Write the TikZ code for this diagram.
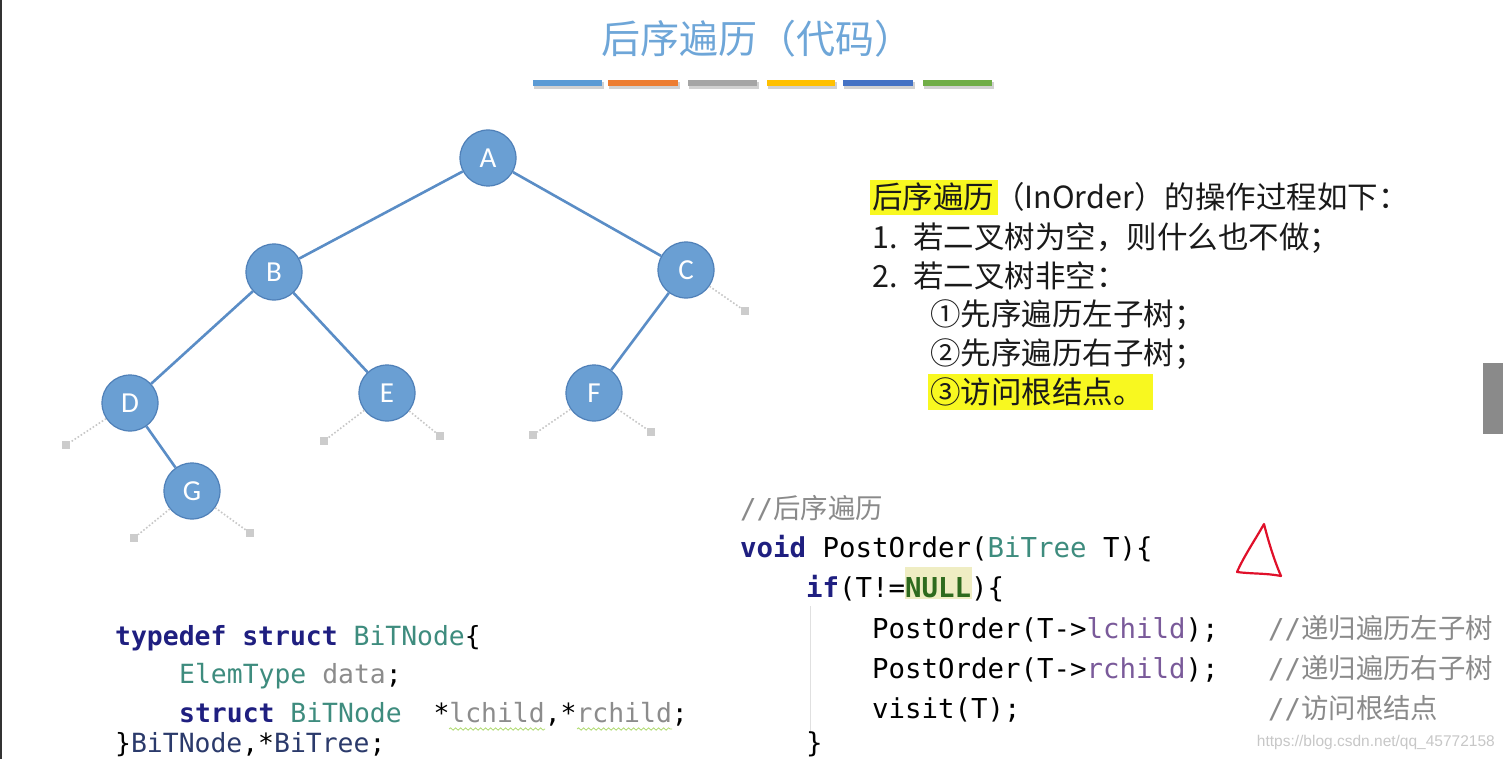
\documentclass[tikz,border=0pt]{standalone}
\usepackage{fontspec}
\usetikzlibrary{decorations.pathmorphing}
\newfontfamily\cjk{Noto Sans CJK SC}
\newfontfamily\mono{DejaVu Sans Mono}
\newfontfamily\lat{Carlito}
\newfontfamily\wmfont{Liberation Sans}
\definecolor{titleblue}{HTML}{6EA6D8}
\definecolor{barA}{HTML}{5B9BD5}
\definecolor{barB}{HTML}{ED7D31}
\definecolor{barC}{HTML}{A5A5A5}
\definecolor{barD}{HTML}{FFC000}
\definecolor{barE}{HTML}{4472C4}
\definecolor{barF}{HTML}{70AD47}
\definecolor{nodefill}{HTML}{6A9FD3}
\definecolor{nodeborder}{HTML}{4F80B8}
\definecolor{edgeblue}{HTML}{5A8DC6}
\definecolor{hl}{HTML}{F8F820}
\definecolor{kw}{HTML}{1F1F80}
\definecolor{ty}{HTML}{3E8C7E}
\definecolor{fld}{HTML}{7A5A9A}
\definecolor{cmt}{HTML}{8A8A8A}
\definecolor{dat}{HTML}{8C8C8C}
\definecolor{nullc}{HTML}{2E6B1E}
\definecolor{nullbg}{HTML}{EFEDC3}
\definecolor{darkty}{HTML}{2B3A6B}
\definecolor{redpen}{HTML}{E0102A}
\definecolor{sidebar}{HTML}{8A8A8A}
\definecolor{txt}{HTML}{1A1A1A}
\begin{document}
\begin{tikzpicture}[x=1pt,y=-1pt,
  tn/.style={circle, fill=nodefill, draw=nodeborder, line width=1.2pt,
    minimum size=56pt, inner sep=0pt, text=white, font=\lat\fontsize{29}{32}\selectfont},
  tedge/.style={draw=edgeblue, line width=2.6pt},
  dotline/.style={draw=black!22, dotted, line width=1.6pt},
  sq/.style={rectangle, fill=black!20, minimum size=8pt, inner sep=0pt},
  titlestyle/.style={anchor=base, inner sep=0pt, text=titleblue, font=\cjk\fontsize{39}{44}\selectfont},
  rt/.style={anchor=base west, inner sep=0pt, text=txt, font=\cjk\fontsize{30.5}{36}\selectfont},
  codeR/.style={anchor=base west, inner sep=0pt, text=black, font=\mono\fontsize{27.4}{32}\selectfont},
  codeL/.style={anchor=base west, inner sep=0pt, text=black, font=\mono\fontsize{26.4}{31}\selectfont},
  wavy/.style={draw=green!40!yellow!60!gray!70, line width=0.8pt, decorate,
    decoration={snake, amplitude=1.2pt, segment length=5pt}},
  wmstyle/.style={anchor=base east, inner sep=0pt, text=black!22, font=\wmfont\fontsize{15.5}{18}\selectfont}
]
\useasboundingbox (0,0) rectangle (1503,759);
\clip (0,0) rectangle (1503,759);
\fill[white] (0,0) rectangle (1503,759);
% left frame line and right scroll bar
\fill[black!80] (0,0) rectangle (1.6,759);
\fill[sidebar] (1483,363) rectangle (1503,434);

% title
\node[titlestyle] (title) at (757,54) {后序遍历（代码）};
\foreach \a/\b/\c in {533/602/barA, 608/678/barB, 688/757/barC, 767/835/barD, 843/913/barE, 923/992/barF}{
  \fill[black!18] (\a+1,82.5) rectangle (\b+1.5,89);
  \fill[\c] (\a,80) rectangle (\b,86.5);
}

% tree nodes
\node[tn] (A) at (488,158) {A};
\node[tn] (B) at (274,272) {B};
\node[tn] (C) at (686,270) {C};
\node[tn] (D) at (130,403) {D};
\node[tn] (E) at (387,393) {E};
\node[tn] (F) at (594,393) {F};
\node[tn] (G) at (192,491) {G};
\draw[tedge] (A) -- (B);
\draw[tedge] (A) -- (C);
\draw[tedge] (B) -- (D);
\draw[tedge] (B) -- (E);
\draw[tedge] (C) -- (F);
\draw[tedge] (D) -- (G);
% empty child stubs
\node[sq] (sC) at (745,311) {};
\node[sq] (sD) at (66,445) {};
\node[sq] (sE1) at (324,441) {};
\node[sq] (sE2) at (440,436) {};
\node[sq] (sF1) at (533,435) {};
\node[sq] (sF2) at (651,432) {};
\node[sq] (sG1) at (134,538) {};
\node[sq] (sG2) at (250,533) {};
\draw[dotline] (C) -- (sC);
\draw[dotline] (D) -- (sD);
\draw[dotline] (E) -- (sE1);
\draw[dotline] (E) -- (sE2);
\draw[dotline] (F) -- (sF1);
\draw[dotline] (F) -- (sF2);
\draw[dotline] (G) -- (sG1);
\draw[dotline] (G) -- (sG2);

% right description
\fill[hl] (870,180) rectangle (998,215);
\fill[hl] (928,374) rectangle (1153,410);
\node[rt] (r1) at (872,208.5) {后序遍历（InOrder）的操作过程如下：};
\node[rt] (r2n) at (872,248) {1.};
\node[rt] (r2) at (913,248) {若二叉树为空，则什么也不做；};
\node[rt] (r3n) at (872,287) {2.};
\node[rt] (r3) at (913,287) {若二叉树非空：};
\node[rt] (r4) at (930,325) {①先序遍历左子树；};
\node[rt] (r5) at (930,364) {②先序遍历右子树；};
\node[rt] (r6) at (930,403) {③访问根结点。};

% right code
\fill[nullbg] (905,567) rectangle (972,599);
\draw[black!12, line width=1pt] (810,606) -- (810,734);
\node[codeR] (c0) at (740,518) {\textcolor{cmt}{//{\cjk 后序遍历}}};
\node[codeR] (c1) at (740,557) {\textcolor{kw}{\bfseries void} PostOrder(\textcolor{ty}{BiTree} T)\{};
\node[codeR] (c2) at (806,597) {\textcolor{kw}{\bfseries if}(T!=\textcolor{nullc}{\bfseries NULL})\{};
\node[codeR] (c3) at (872,638) {PostOrder(T->\textcolor{fld}{lchild});};
\node[codeR] (c3c) at (1268,638) {\textcolor{cmt}{//{\cjk 递归遍历左子树}}};
\node[codeR] (c4) at (872,678) {PostOrder(T->\textcolor{fld}{rchild});};
\node[codeR] (c4c) at (1268,678) {\textcolor{cmt}{//{\cjk 递归遍历右子树}}};
\node[codeR] (c5) at (872,718) {visit(T);};
\node[codeR] (c5c) at (1268,718) {\textcolor{cmt}{//{\cjk 访问根结点}}};
\node[codeR] (c6) at (806,752) {\}};

% red hand-drawn triangle
\draw[redpen, line width=2.2pt, line join=round, line cap=round]
  (1264,524) .. controls (1255,540) and (1244,556) .. (1237,572)
  .. controls (1252,574) and (1266,573) .. (1281,576)
  .. controls (1274,560) and (1268,540) .. (1264,524);

% left code
\node[codeL] (d1) at (115,645) {\textcolor{kw}{\bfseries typedef struct} \textcolor{ty}{BiTNode}\{};
\node[codeL] (d2) at (179,683) {\textcolor{ty}{ElemType} \textcolor{dat}{data};};
\node[codeL] (d3) at (179,722) {\textcolor{kw}{\bfseries struct} \textcolor{ty}{BiTNode}\ \ *\textcolor{dat}{lchild},*\textcolor{dat}{rchild};};
\node[codeL] (d4) at (115,752) {\}\textcolor{darkty}{BiTNode},*\textcolor{darkty}{BiTree};};
\draw[wavy] (449,729) -- (545,729);
\draw[wavy] (577,729) -- (672,729);

% watermark
\node[wmstyle] (wm) at (1495,746) {https://blog.csdn.net/qq\_45772158};
\end{tikzpicture}
\end{document}
